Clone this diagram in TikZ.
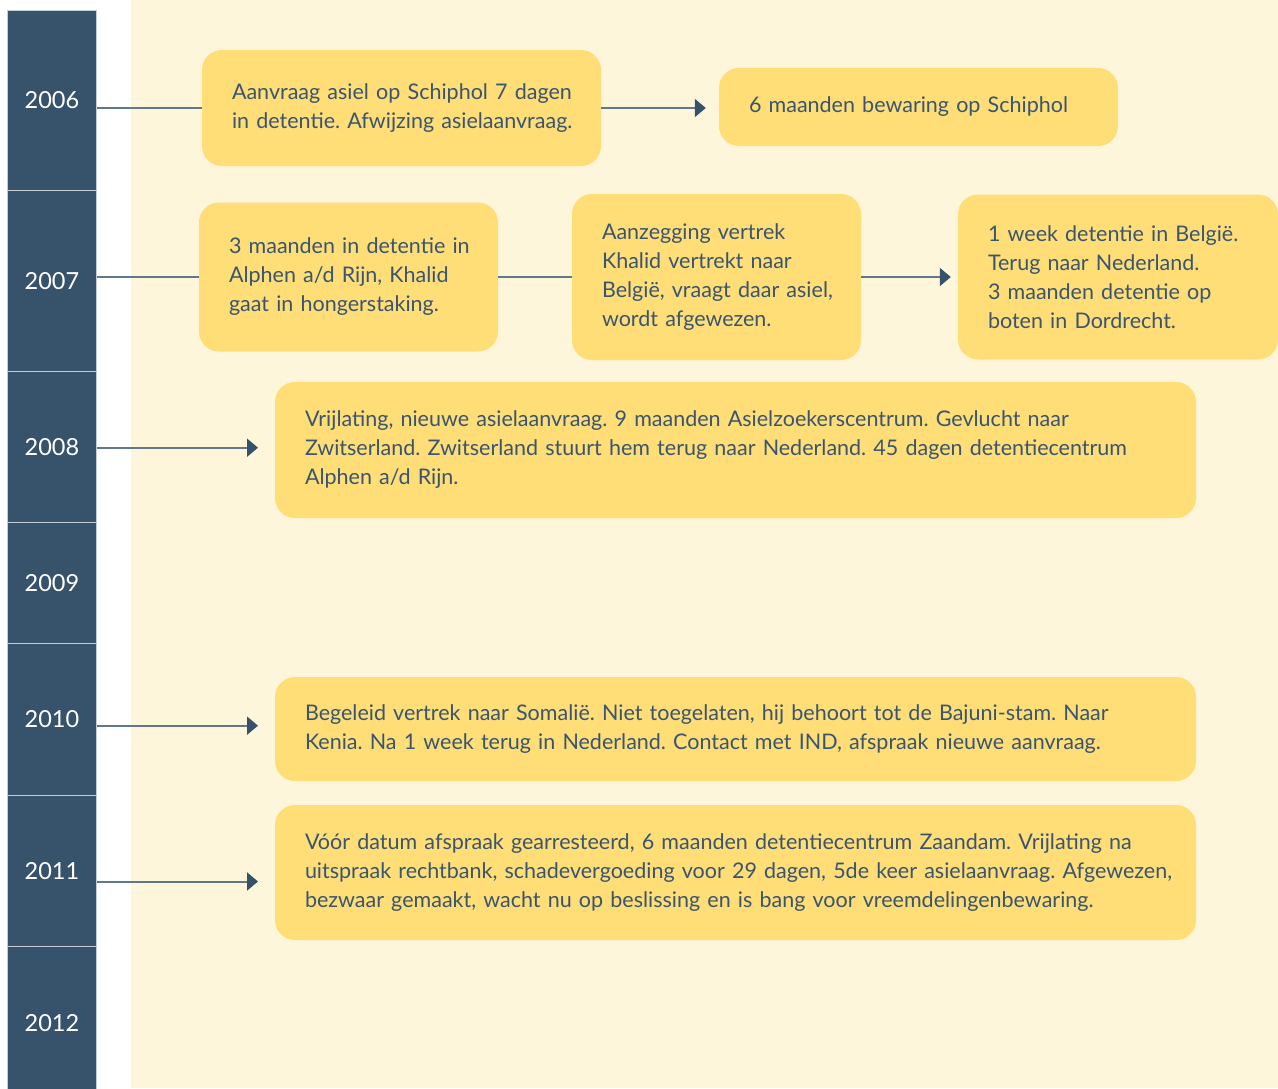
\documentclass[tikz,border=0pt]{standalone}
\usepackage{fontspec}
\setmainfont{Lato}
\frenchspacing
\usetikzlibrary{arrows.meta}
\definecolor{colblue}{HTML}{37526B}
\definecolor{cream}{HTML}{FEF6DA}
\definecolor{boxyellow}{HTML}{FFDD77}
\definecolor{txtblue}{HTML}{3A5570}
\definecolor{linegray}{HTML}{61778A}
\definecolor{headblue}{HTML}{36516B}
\definecolor{sepgray}{HTML}{C5CCD3}
\newcommand\oneline[1]{\mbox{#1}}
\tikzset{
  yearcell/.style={anchor=north west, fill=colblue, draw=sepgray, line width=0.8pt,
    minimum width=89pt, inner sep=0pt, text=white,
    font=\fontsize{23.5}{28}\selectfont},
  evbox/.style={fill=boxyellow, rounded corners=20pt, inner xsep=30pt, inner ysep=0pt,
    align=left, text=txtblue, font=\fontsize{21.5}{29}\selectfont},
  conn/.style={draw=linegray, line width=2pt},
  arr/.style={conn, -{Triangle[length=11pt,width=18pt,color=headblue]}},
}
\begin{document}
\begin{tikzpicture}[x=1pt,y=-1pt]
\useasboundingbox (0,0) rectangle (1278,1088);
\fill[white] (0,0) rectangle (1278,1088);
\fill[cream] (131,0) rectangle (1278,1088);

% year column
\node[yearcell, minimum height=180pt] (y2006) at (7,10) {2006};
\node[yearcell, minimum height=181pt] (y2007) at (7,190) {2007};
\node[yearcell, minimum height=151pt] (y2008) at (7,371) {2008};
\node[yearcell, minimum height=121pt] (y2009) at (7,522) {2009};
\node[yearcell, minimum height=152pt] (y2010) at (7,643) {2010};
\node[yearcell, minimum height=151pt] (y2011) at (7,795) {2011};
\node[yearcell, minimum height=154pt] (y2012) at (7,946) {2012};

% event boxes
\node[evbox, minimum width=399pt, minimum height=116pt, text width=339pt] (a) at (401.5,108)
  {\oneline{Aanvraag asiel op Schiphol 7 dagen}\\\oneline{in detentie. Afwijzing asielaanvraag.}};
\node[evbox, minimum width=399pt, minimum height=78pt, text width=339pt] (b) at (918.5,107)
  {\oneline{6 maanden bewaring op Schiphol}};
\node[evbox, minimum width=299pt, minimum height=149pt, text width=239pt] (c) at (348.5,277)
  {\oneline{3 maanden in detentie in}\\\oneline{Alphen a/d Rijn, Khalid}\\\oneline{gaat in hongerstaking.}};
\node[evbox, minimum width=289pt, minimum height=166pt, text width=229pt] (d) at (716.5,277)
  {\oneline{Aanzegging vertrek}\\\oneline{Khalid vertrekt naar}\\\oneline{België, vraagt daar asiel,}\\\oneline{wordt afgewezen.}};
\node[evbox, minimum width=320pt, minimum height=165pt, text width=260pt] (e) at (1118,277)
  {\oneline{1 week detentie in België.}\\\oneline{Terug naar Nederland.}\\\oneline{3 maanden detentie op}\\\oneline{boten in Dordrecht.}};
\node[evbox, minimum width=921pt, minimum height=136pt, text width=861pt] (f) at (735.5,450)
  {\oneline{Vrijlating, nieuwe asielaanvraag. 9 maanden Asielzoekerscentrum. Gevlucht naar}\\\oneline{Zwitserland. Zwitserland stuurt hem terug naar Nederland. 45 dagen detentiecentrum}\\\oneline{Alphen a/d Rijn.}};
\node[evbox, minimum width=921pt, minimum height=104pt, text width=861pt] (g) at (735.5,729)
  {\oneline{Begeleid vertrek naar Somalië. Niet toegelaten, hij behoort tot de Bajuni-stam. Naar}\\\oneline{Kenia. Na 1 week terug in Nederland. Contact met IND, afspraak nieuwe aanvraag.}};
\node[evbox, minimum width=921pt, minimum height=135pt, text width=861pt] (h) at (735.5,872.5)
  {\oneline{Vóór datum afspraak gearresteerd, 6 maanden detentiecentrum Zaandam. Vrijlating na}\\\oneline{uitspraak rechtbank, schadevergoeding voor 29 dagen, 5de keer asielaanvraag. Afgewezen,}\\\oneline{bezwaar gemaakt, wacht nu op beslissing en is bang voor vreemdelingenbewaring.}};

% arrow tips (free ends)
\coordinate (t2008) at (258,447.7);
\coordinate (t2010) at (258,725.7);
\coordinate (t2011) at (258,881.5);

% connectors
\draw[conn] (y2006.east |- a.west) -- (a.west);
\draw[arr, shorten >=13pt] (a.east) -- (a.east -| b.west);
\draw[conn] (y2007.east |- c.west) -- (c.west);
\draw[conn] (c.east) -- (c.east -| d.west);
\draw[arr, shorten >=7pt] (d.east) -- (d.east -| e.west);
\draw[arr] (y2008.east |- t2008) -- (t2008);
\draw[arr] (y2010.east |- t2010) -- (t2010);
\draw[arr] (y2011.east |- t2011) -- (t2011);
\end{tikzpicture}
\end{document}
